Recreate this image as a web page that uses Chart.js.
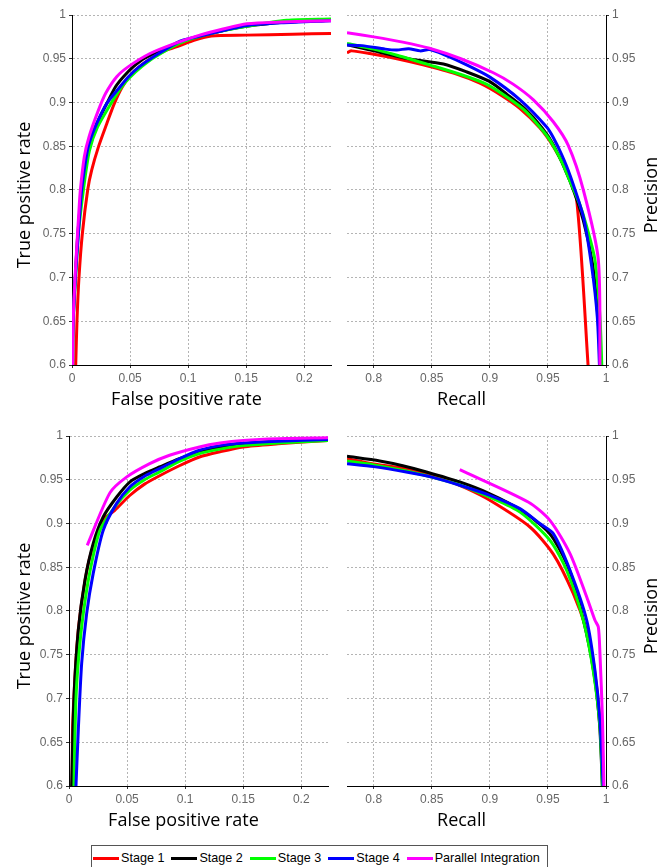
<!DOCTYPE html>
<html>
<head>
<meta charset="utf-8">
<script src="https://cdn.jsdelivr.net/npm/chart.js@4.4.0/dist/chart.umd.min.js"></script>
<style>
  body { margin: 0; background: #fff; width: 665px; height: 867px; overflow: hidden; position: relative; }
  canvas { position: absolute; }
  #legend {
    position: absolute; left: 91px; top: 845px; width: 457px; height: 28px;
    box-sizing: border-box; border: 1px solid #555; background: #fff;
    display: flex; align-items: center; padding-left: 1px; padding-bottom: 2px;
    font: 12.6px "Liberation Sans", Arial, sans-serif; color: #000; white-space: nowrap;
  }
  #legend .item { display: flex; align-items: center; margin-right: 7px; }
  #legend i { display: inline-block; width: 26px; height: 3px; margin-right: 2px; }
</style>
</head>
<body>
<canvas id="rocTop" width="345" height="415" style="left:0;top:0"></canvas>
<canvas id="prTop" width="335" height="415" style="left:330px;top:0"></canvas>
<canvas id="rocBottom" width="345" height="415" style="left:0;top:420px"></canvas>
<canvas id="prBottom" width="335" height="415" style="left:330px;top:420px"></canvas>
<div id="legend"></div>
<script>
const seriesNames = ["Stage 1", "Stage 2", "Stage 3", "Stage 4", "Parallel Integration"];
const seriesColors = ["#ff0000", "#000000", "#00ff00", "#0000ff", "#ff00ff"];
const drawOrder = [5, 4, 3, 2, 1];

const rocXRange = [0, 0.223];
const prXRange = [0.777, 1];
const yRange = [0.6, 1];
const rocXTicks = [0, 0.05, 0.1, 0.15, 0.2];
const prXTicks = [0.8, 0.85, 0.9, 0.95, 1];
const yTicks = [0.6, 0.65, 0.7, 0.75, 0.8, 0.85, 0.9, 0.95, 1];

// top row, ROC: [false positive rate, true positive rate]
const rocTop1 = [[0.003,0.59],[0.0032,0.6],[0.0043,0.651],[0.006,0.70],[0.0089,0.75],[0.0135,0.80],[0.017,0.823],[0.0227,0.849],[0.030,0.876],[0.0365,0.899],[0.0434,0.918],[0.0514,0.933],[0.06,0.943],[0.07,0.952],[0.08,0.959],[0.093,0.965],[0.105,0.971],[0.120,0.976],[0.150,0.977],[0.19,0.978],[0.223,0.979]];
const rocTop2 = [[0.0005,0.59],[0.001,0.65],[0.0028,0.70],[0.005,0.75],[0.0085,0.80],[0.013,0.845],[0.02,0.872],[0.03,0.899],[0.0375,0.918],[0.0443,0.9295],[0.0529,0.941],[0.063,0.951],[0.093,0.969],[0.12,0.979],[0.15,0.987],[0.185,0.992],[0.223,0.994]];
const rocTop3 = [[0.0005,0.59],[0.001,0.65],[0.003,0.70],[0.0055,0.75],[0.0098,0.80],[0.015,0.845],[0.022,0.872],[0.0336,0.899],[0.0428,0.918],[0.05,0.929],[0.06,0.941],[0.07,0.951],[0.093,0.968],[0.12,0.979],[0.15,0.987],[0.185,0.994],[0.223,0.9955]];
const rocTop4 = [[0.0003,0.59],[0.0003,0.625],[0.0026,0.694],[0.0049,0.739],[0.0069,0.777],[0.0083,0.80],[0.0118,0.834],[0.0147,0.853],[0.0213,0.876],[0.030,0.899],[0.0414,0.918],[0.0486,0.9295],[0.058,0.941],[0.070,0.952],[0.093,0.970],[0.12,0.979],[0.1506,0.988],[0.18,0.991],[0.223,0.9935]];
const rocTopP = [[0.0005,0.59],[0.001,0.65],[0.0026,0.70],[0.0043,0.739],[0.006,0.777],[0.0072,0.80],[0.0106,0.838],[0.0147,0.861],[0.0227,0.891],[0.029,0.9105],[0.0385,0.9295],[0.0486,0.941],[0.0672,0.956],[0.0888,0.9676],[0.110,0.977],[0.13,0.984],[0.1506,0.990],[0.18,0.992],[0.223,0.9935]];

// top row, precision-recall: [recall, precision]
const prTop1 = [[0.777,0.957],[0.781,0.959],[0.7966,0.956],[0.82,0.950],[0.8425,0.943],[0.87,0.933],[0.8914,0.922],[0.91,0.908],[0.926,0.893],[0.943,0.871],[0.955,0.849],[0.965,0.824],[0.9747,0.789],[0.9848,0.595]];
const prTop2 = [[0.777,0.966],[0.80,0.959],[0.83,0.950],[0.86,0.944],[0.88,0.935],[0.90,0.9238],[0.915,0.909],[0.93,0.893],[0.945,0.871],[0.955,0.851],[0.969,0.81],[0.9805,0.765],[0.9885,0.715],[0.993,0.655],[0.9955,0.595]];
const prTop3 = [[0.777,0.9676],[0.80,0.961],[0.82,0.954],[0.848,0.943],[0.875,0.932],[0.897,0.921],[0.915,0.906],[0.93,0.891],[0.943,0.872],[0.9517,0.857],[0.962,0.832],[0.969,0.81],[0.977,0.785],[0.9834,0.758],[0.9905,0.72],[0.9948,0.655],[0.9965,0.595]];
const prTop4 = [[0.777,0.9657],[0.79,0.965],[0.81,0.961],[0.82,0.960],[0.83,0.9615],[0.84,0.959],[0.848,0.9605],[0.86,0.955],[0.88,0.943],[0.90,0.929],[0.926,0.903],[0.9489,0.872],[0.9546,0.86],[0.962,0.84],[0.969,0.817],[0.9805,0.7695],[0.9877,0.7124],[0.9925,0.655],[0.9945,0.595]];
const prTopP = [[0.777,0.9798],[0.80,0.975],[0.825,0.969],[0.848,0.962],[0.875,0.950],[0.903,0.934],[0.92,0.921],[0.9375,0.903],[0.9546,0.878],[0.9675,0.851],[0.9805,0.80],[0.9934,0.72],[0.9948,0.595]];

// bottom row, ROC
const rocBot1 = [[0.0025,0.59],[0.0028,0.62],[0.0032,0.6716],[0.008,0.778],[0.0166,0.854],[0.0294,0.9037],[0.0394,0.915],[0.0523,0.932],[0.065,0.945],[0.078,0.9546],[0.095,0.966],[0.1123,0.976],[0.13,0.982],[0.15,0.9875],[0.18,0.991],[0.223,0.995]];
const rocBot2 = [[0.0022,0.59],[0.0023,0.6],[0.0043,0.702],[0.008,0.778],[0.0137,0.835],[0.0208,0.877],[0.0294,0.9074],[0.0409,0.930],[0.0523,0.9474],[0.065,0.957],[0.078,0.9646],[0.095,0.974],[0.1123,0.9817],[0.13,0.987],[0.15,0.991],[0.18,0.994],[0.223,0.996]];
const rocBot3 = [[0.0042,0.59],[0.0045,0.62],[0.006,0.70],[0.0085,0.75],[0.0123,0.797],[0.018,0.845],[0.0266,0.892],[0.0394,0.919],[0.0523,0.938],[0.065,0.95],[0.078,0.959],[0.095,0.971],[0.1123,0.980],[0.13,0.985],[0.15,0.989],[0.18,0.992],[0.223,0.995]];
const rocBot4 = [[0.0058,0.59],[0.006,0.6],[0.008,0.6636],[0.0109,0.740],[0.0152,0.797],[0.0208,0.8427],[0.0294,0.892],[0.0409,0.9227],[0.0523,0.9417],[0.065,0.954],[0.078,0.9627],[0.095,0.974],[0.1123,0.9837],[0.13,0.989],[0.15,0.992],[0.18,0.994],[0.223,0.996]];
const rocBotP = [[0.0157,0.875],[0.0352,0.935],[0.0495,0.953],[0.0695,0.9684],[0.0866,0.978],[0.1123,0.9875],[0.13,0.992],[0.15,0.995],[0.18,0.997],[0.223,0.998]];

// bottom row, precision-recall
const prBot1 = [[0.777,0.9741],[0.80,0.968],[0.828,0.9627],[0.8627,0.9494],[0.88,0.940],[0.90,0.9265],[0.9345,0.896],[0.9546,0.865],[0.9718,0.82],[0.9834,0.7775],[0.989,0.7432],[0.9948,0.675],[0.9977,0.595]];
const prBot2 = [[0.777,0.9768],[0.8052,0.9714],[0.825,0.966],[0.8454,0.9589],[0.8741,0.9474],[0.90,0.934],[0.926,0.916],[0.945,0.897],[0.955,0.882],[0.969,0.845],[0.9805,0.79],[0.9895,0.73],[0.9945,0.67],[0.997,0.595]];
const prBot3 = [[0.777,0.9714],[0.80,0.967],[0.828,0.960],[0.85,0.953],[0.8741,0.944],[0.90,0.930],[0.926,0.913],[0.9517,0.8808],[0.9661,0.8466],[0.9805,0.7894],[0.989,0.732],[0.9948,0.6675],[0.997,0.595]];
const prBot4 = [[0.777,0.9684],[0.80,0.965],[0.828,0.9589],[0.85,0.953],[0.8741,0.9437],[0.90,0.9322],[0.9259,0.917],[0.943,0.90],[0.9546,0.8885],[0.969,0.8466],[0.9834,0.7894],[0.9905,0.732],[0.9948,0.675],[0.9977,0.595]];
const prBotP = [[0.8741,0.9616],[0.933,0.9246],[0.9517,0.9036],[0.969,0.8656],[0.9834,0.816],[0.9905,0.7894],[0.9934,0.7817],[0.9948,0.7513],[0.997,0.675],[0.9983,0.595]];

const gridColor = "#b4b4b4";
const tickColor = "#666";
const tickFont = { family: "'Liberation Sans', Arial, sans-serif", size: 12 };
const titleFont = "18px 'Open Sans', sans-serif";

const fmt = v => String(parseFloat(v.toFixed(3)));

// axis titles drawn by hand: both sit a bit off the plot centre, and the right one reads bottom-up
const axisTitles = {
  id: "axisTitles",
  afterDraw(chart, args, o) {
    const { ctx, chartArea: a } = chart;
    ctx.save();
    ctx.font = titleFont;
    ctx.fillStyle = "#000";
    ctx.textAlign = "center";
    ctx.textBaseline = "middle";
    ctx.fillText(o.xText, (a.left + a.right) / 2 - 15, a.bottom + o.xGap);
    const yx = o.side === "left" ? a.left - o.yGap : a.right + o.yGap;
    ctx.translate(yx, (a.top + a.bottom) / 2 + 5);
    ctx.rotate(-Math.PI / 2);
    ctx.fillText(o.yText, 0, 0);
    ctx.restore();
  }
};

function panel(id, series, xRange, xTicks, o) {
  const datasets = series.map((pts, i) => ({
    label: seriesNames[i],
    data: pts.map(p => ({ x: p[0], y: p[1] })),
    borderColor: seriesColors[i],
    borderWidth: 3,
    pointRadius: 0,
    tension: 0.25,
    fill: false,
    order: drawOrder[i]
  }));
  const grid = { color: gridColor, lineWidth: 1, drawTicks: true, tickLength: 3, tickColor: "#333" };
  const border = { display: true, color: "#000", width: 1, dash: [2, 2] };
  return new Chart(document.getElementById(id), {
    type: "line",
    data: { datasets },
    options: {
      responsive: false,
      animation: false,
      events: [],
      layout: { padding: o.pad },
      plugins: {
        legend: { display: false },
        tooltip: { enabled: false },
        axisTitles: o.titles
      },
      scales: {
        x: {
          type: "linear", min: xRange[0], max: xRange[1],
          afterBuildTicks: s => { s.ticks = xTicks.map(v => ({ value: v })); },
          afterFit: s => { s.height = o.xh; },
          grid, border,
          ticks: { color: tickColor, font: tickFont, padding: 3, maxRotation: 0, autoSkip: false, callback: fmt }
        },
        y: {
          type: "linear", position: o.titles.side, min: yRange[0], max: yRange[1],
          afterBuildTicks: s => { s.ticks = yTicks.map(v => ({ value: v })); },
          afterFit: s => { s.width = o.yw; },
          grid, border,
          ticks: { color: tickColor, font: tickFont, padding: 3, autoSkip: false, callback: fmt }
        }
      }
    },
    plugins: [axisTitles]
  });
}

panel("rocTop", [rocTop1, rocTop2, rocTop3, rocTop4, rocTopP], rocXRange, rocXTicks, {
  pad: { left: 0, top: 15, right: 14, bottom: 0 }, xh: 50, yw: 72,
  titles: { xText: "False positive rate", yText: "True positive rate", side: "left", xGap: 35, yGap: 47 }
});
panel("prTop", [prTop1, prTop2, prTop3, prTop4, prTopP], prXRange, prXTicks, {
  pad: { left: 17, top: 15, right: 0, bottom: 0 }, xh: 50, yw: 59,
  titles: { xText: "Recall", yText: "Precision", side: "right", xGap: 35, yGap: 46 }
});
panel("rocBottom", [rocBot1, rocBot2, rocBot3, rocBot4, rocBotP], rocXRange, rocXTicks, {
  pad: { left: 0, top: 16, right: 17, bottom: 0 }, xh: 49, yw: 69,
  titles: { xText: "False positive rate", yText: "True positive rate", side: "left", xGap: 35, yGap: 44 }
});
panel("prBottom", [prBot1, prBot2, prBot3, prBot4, prBotP], prXRange, prXTicks, {
  pad: { left: 17, top: 16, right: 0, bottom: 0 }, xh: 49, yw: 59,
  titles: { xText: "Recall", yText: "Precision", side: "right", xGap: 35, yGap: 46 }
});

const legend = document.getElementById("legend");
seriesNames.forEach((name, i) => {
  const item = document.createElement("span");
  item.className = "item";
  const swatch = document.createElement("i");
  swatch.style.background = seriesColors[i];
  const label = document.createElement("span");
  label.textContent = name;
  item.appendChild(swatch);
  item.appendChild(label);
  legend.appendChild(item);
});
</script>
</body>
</html>
